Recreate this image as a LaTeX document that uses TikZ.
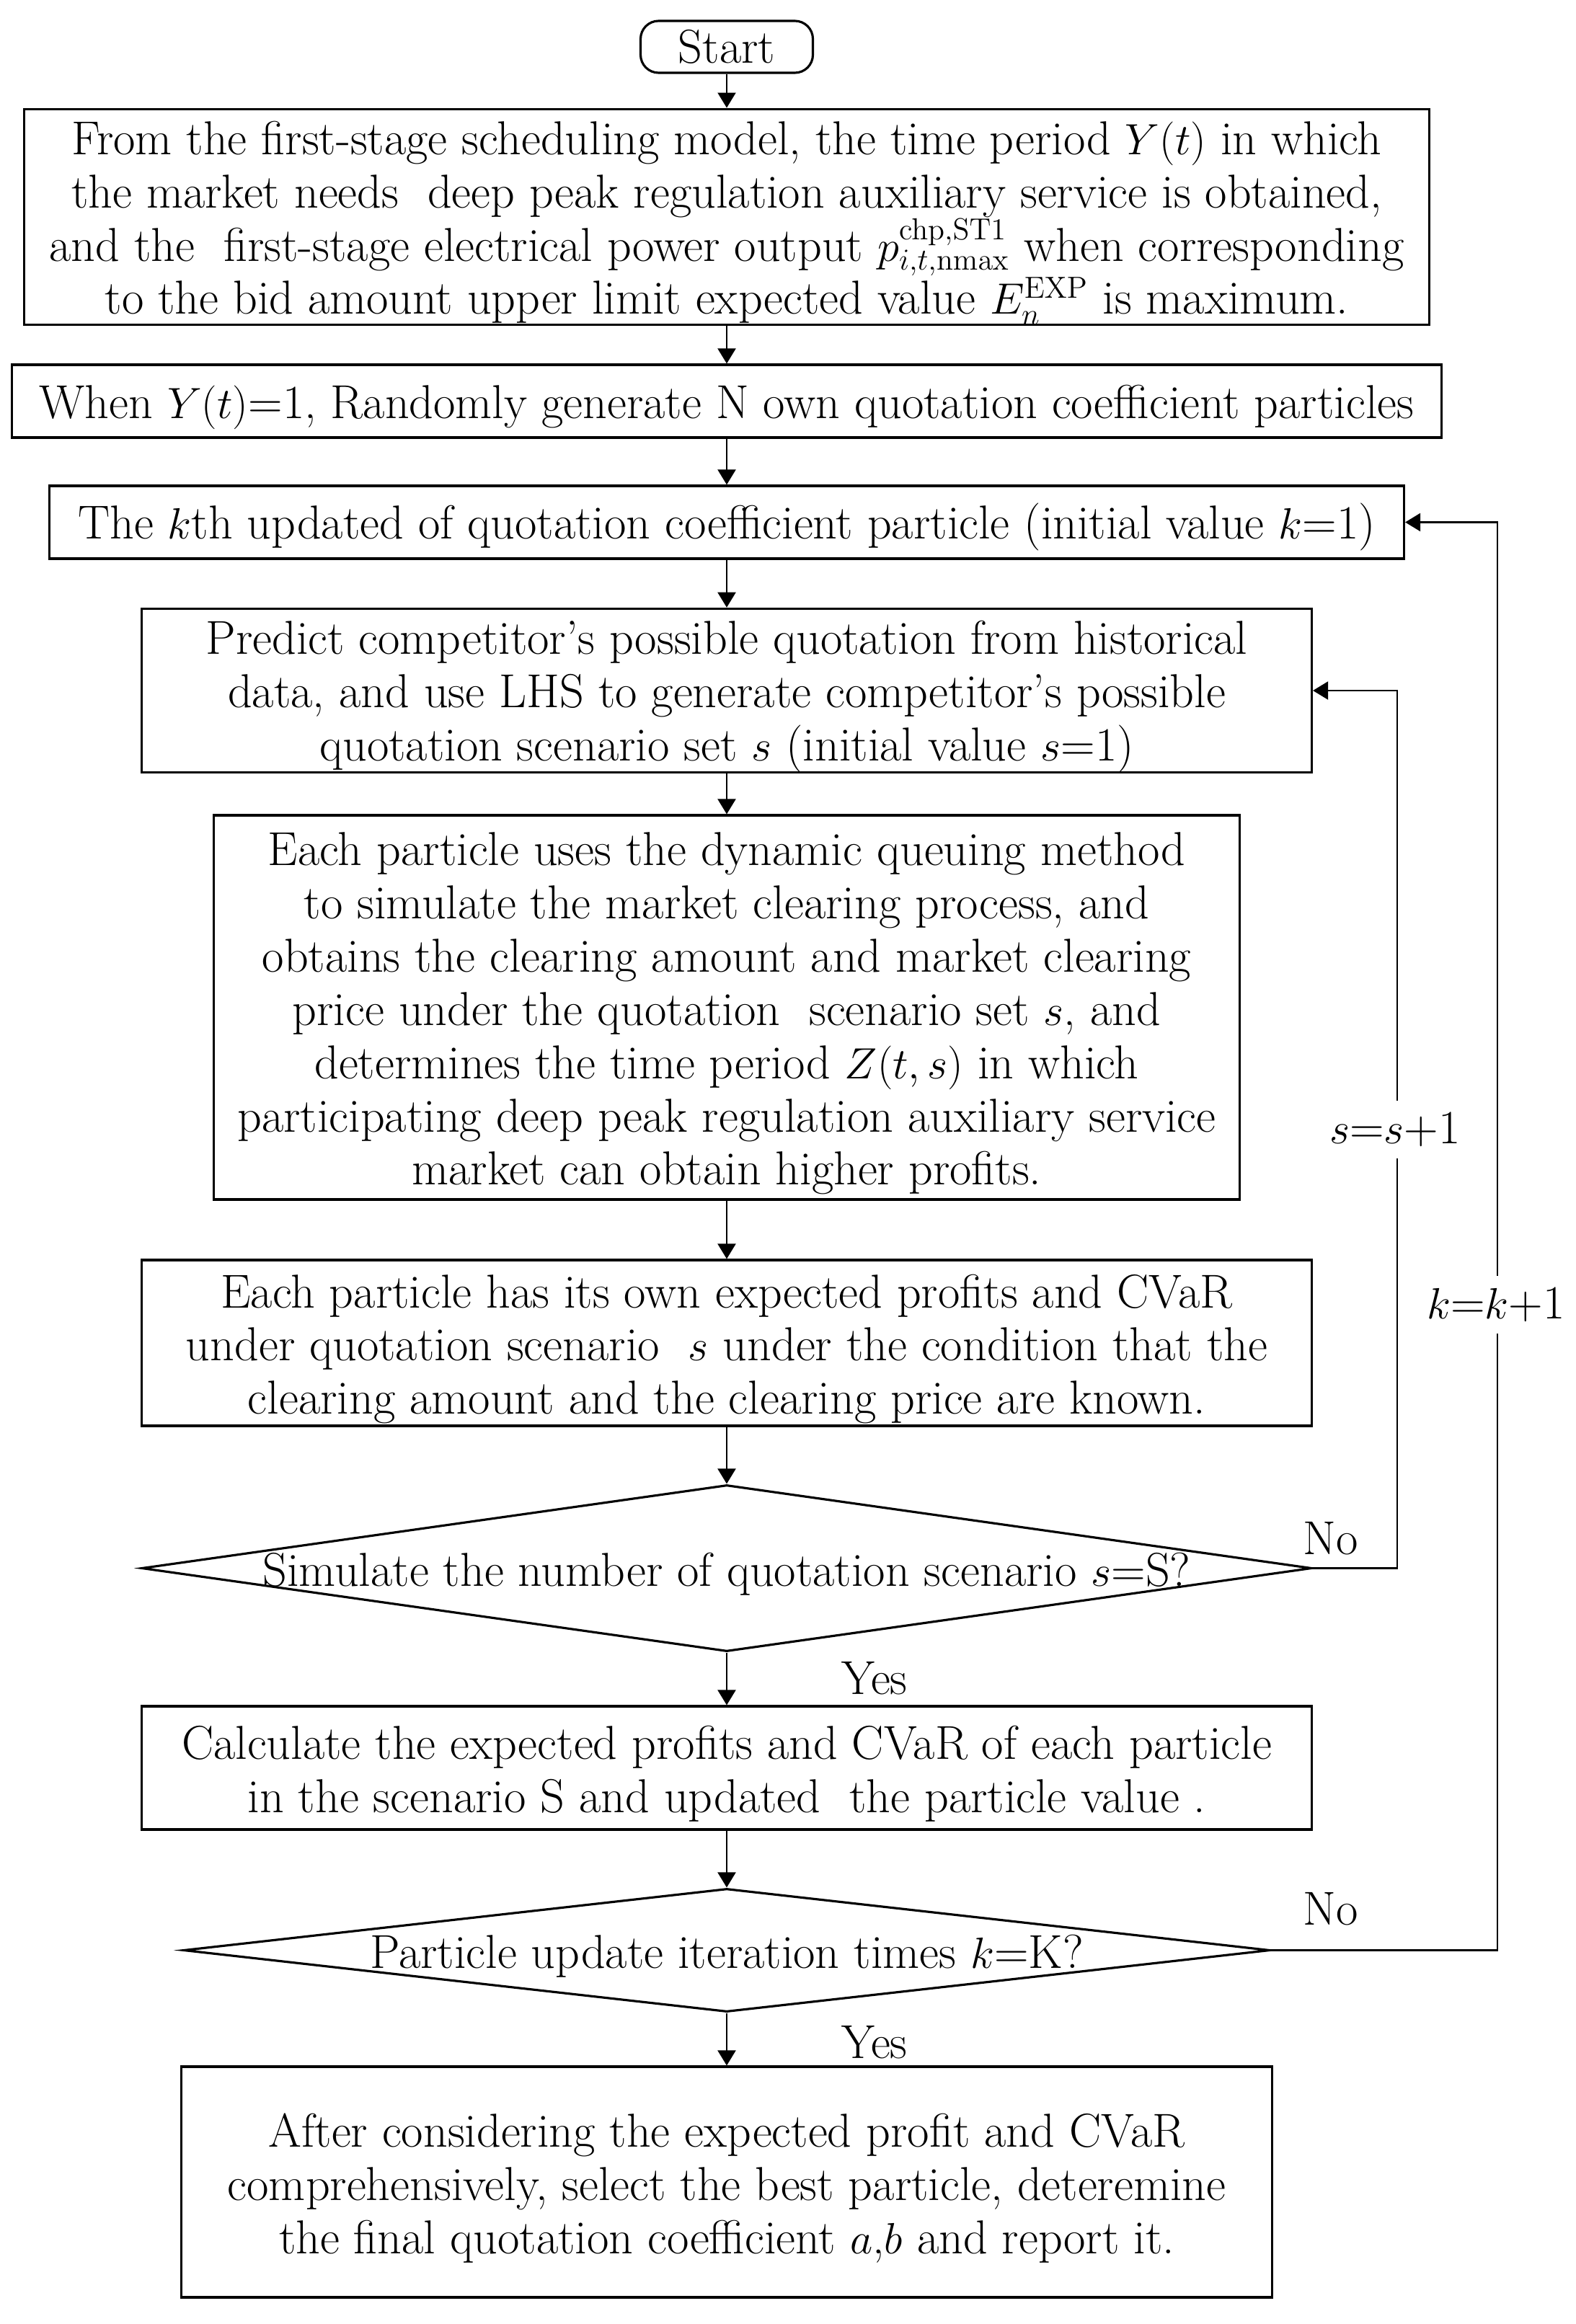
\documentclass[tikz,border=0pt]{standalone}
\usetikzlibrary{arrows.meta,shapes.geometric,calc}
\newcommand\mytopstrut{\rule{0pt}{18pt}}
\begin{document}
\begin{tikzpicture}[
  txt/.style={font=\fontsize{18.8}{21}\selectfont},
  box/.style={draw, line width=0.9pt, align=center, inner sep=0pt, txt},
  startbox/.style={box, rounded corners=0.25cm},
  dia/.style={diamond, draw, line width=0.9pt, inner sep=0pt},
  arr/.style={-{Triangle[length=0.21cm,width=0.25cm]}, line width=0.6pt},
  lbl/.style={txt, inner sep=1pt},
  onlbl/.style={txt, fill=white, inner xsep=1pt, inner ysep=0.16cm}
]
\useasboundingbox (0,0) rectangle (21.86,-32.24);

\node[startbox, minimum width=2.39cm, minimum height=0.72cm] (st) at (10.08,-0.65) {Start};

\node[box, minimum width=19.49cm, minimum height=2.98cm] (b1) at (10.08,-3.01)
 {\mytopstrut From the first-stage scheduling model, the time period $Y(t)$ in which\\
  the market needs\ \ deep peak regulation auxiliary service is obtained,\\
  and the\ \ first-stage electrical power output $p_{i,t,\mathrm{nmax}}^{\mathrm{chp,ST1}}$ when corresponding\\
  to the bid amount upper limit expected value $E_n^{\mathrm{EXP}}$\ is maximum.};

\node[box, minimum width=19.83cm, minimum height=1.01cm] (b2) at (10.08,-5.565)
 {\mytopstrut When $Y(t)$=1, Randomly generate N own quotation coefficient particles};

\node[box, minimum width=18.79cm, minimum height=1.01cm] (b3) at (10.08,-7.245)
 {\mytopstrut The $k$th updated of quotation coefficient particle (initial value $k$=1)};

\node[box, minimum width=16.23cm, minimum height=2.22cm] (b4) at (10.08,-9.58)
 {\mytopstrut Predict competitor's possible quotation from historical\\
  data, and use LHS to generate competitor's possible\\
  quotation scenario set $s$ (initial value $s$=1)};

\node[box, minimum width=14.23cm, minimum height=5.33cm] (b5) at (10.08,-13.975)
 {\mytopstrut Each particle uses the dynamic queuing method\\
  to simulate the market clearing process, and\\
  obtains the clearing amount and market clearing\\
  price under the quotation\ \ scenario set $s$, and\\
  determines the time period $Z(t,s)$ in which\\
  participating deep peak regulation auxiliary service\\
  market can obtain higher profits.};

\node[box, minimum width=16.23cm, minimum height=2.30cm] (b6) at (10.08,-18.63)
 {\mytopstrut Each particle has its own expected profits and CVaR\\
  under quotation scenario\ \ $s$ under the condition that the\\
  clearing amount and the clearing price are known.};

\node[dia, minimum width=16.23cm, minimum height=2.31cm] (d1) at (10.08,-21.755) {};
\node[txt, inner sep=0pt] (d1t) at (d1.center) {\mytopstrut Simulate the number of quotation scenario $s$=S?};

\node[box, minimum width=16.23cm, minimum height=1.71cm] (b7) at (10.08,-24.525)
 {\mytopstrut Calculate the expected profits and CVaR of each particle\\
  in the scenario S and updated\ \ the particle value .};

\node[dia, minimum width=15.07cm, minimum height=1.71cm] (d2) at (10.08,-27.055) {};
\node[txt, inner sep=0pt] (d2t) at (d2.center) {\mytopstrut Particle update iteration times $k$=K?};

\node[box, minimum width=15.13cm, minimum height=3.20cm] (b8) at (10.08,-30.27)
 {\mytopstrut After considering the expected profit and CVaR\\
  comprehensively, select the best particle, deteremine\\
  the final quotation coefficient $a$,$b$ and report it.};

\draw[arr] (st) -- (b1);
\draw[arr] (b1) -- (b2);
\draw[arr] (b2) -- (b3);
\draw[arr] (b3) -- (b4);
\draw[arr] (b4) -- (b5);
\draw[arr] (b5) -- (b6);
\draw[arr] (b6) -- (d1);
\draw[arr] (d1) -- (b7);
\draw[arr] (b7) -- (d2);
\draw[arr] (d2) -- (b8);

\draw[arr] (d1.east) -| ($(b4.east)+(1.17,0)$) -- (b4.east);
\draw[arr] (d2.east) -| ($(b3.east)+(1.28,0)$) -- (b3.east);

\node[onlbl] (ls) at (19.35,-15.67) {$s$=$s$+1};
\node[onlbl] (lk) at (20.75,-18.10) {$k$=$k$+1};
\node[lbl] (no1) at (18.46,-21.34) {No};
\node[lbl] (no2) at (18.46,-26.48) {No};
\node[lbl] (yes1) at (12.13,-23.28) {Yes};
\node[lbl] (yes2) at (12.13,-28.33) {Yes};
\end{tikzpicture}
\end{document}
